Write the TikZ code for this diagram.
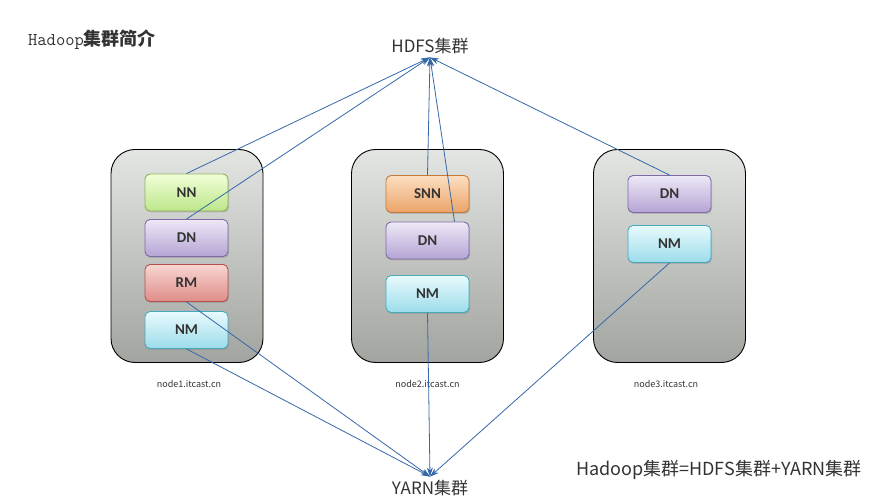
\documentclass[tikz,border=0pt]{standalone}
\usepackage{fontspec}
\setmainfont{Noto Sans CJK SC}
\newfontfamily\boxfont{Carlito}
\usepackage{tikz}
\usetikzlibrary{arrows.meta}
\usetikzlibrary{shadows}

\definecolor{linkblue}{HTML}{3568A8}
\definecolor{textgray}{HTML}{333333}
\definecolor{hosttop}{HTML}{E3E5E2}
\definecolor{hostbottom}{HTML}{A2A4A0}

\tikzset{
	server/.style={draw=black, line width=0.9pt, rounded corners=24pt,
		top color=hosttop, bottom color=hostbottom,
		minimum width=152pt, minimum height=213pt},
	role/.style={rounded corners=5pt, line width=0.9pt,
		minimum width=83pt, minimum height=37pt,
		font=\boxfont\bfseries\fontsize{15}{15}\selectfont, text=textgray,
		drop shadow={shadow xshift=1pt, shadow yshift=-1.5pt, opacity=0.35}},
	nnrole/.style={role, draw={rgb,255:red,141;green,179;blue,86}, top color={rgb,255:red,240;green,255;blue,216}, bottom color={rgb,255:red,189;green,230;blue,138}},
	dnrole/.style={role, draw={rgb,255:red,126;green,106;blue,168}, top color={rgb,255:red,238;green,232;blue,246}, bottom color={rgb,255:red,181;green,164;blue,212}},
	rmrole/.style={role, draw={rgb,255:red,181;green,80;blue,76}, top color={rgb,255:red,248;green,214;blue,210}, bottom color={rgb,255:red,222;green,140;blue,136}},
	nmrole/.style={role, draw={rgb,255:red,72;green,169;blue,188}, top color={rgb,255:red,232;green,250;blue,253}, bottom color={rgb,255:red,156;green,220;blue,234}},
	snnrole/.style={role, draw={rgb,255:red,196;green,122;blue,56}, top color={rgb,255:red,252;green,222;blue,194}, bottom color={rgb,255:red,235;green,164;blue,104}},
	hostlabel/.style={font=\fontsize{9}{10}\selectfont, text=textgray},
	cluster/.style={font=\fontsize{17}{17}\selectfont, text=textgray},
	link/.style={draw=linkblue, line width=0.8pt, -{Stealth[length=9pt,width=6pt]}}
}

\begin{document}
\begin{tikzpicture}[x=1pt,y=-1pt]
	\useasboundingbox (0,0) rectangle (870,502);
	% title
	\node[anchor=west, text=textgray, inner sep=0pt] (title) at (28,40)
		{\ttfamily\fontsize{18}{18}\selectfont Hadoop\rmfamily\bfseries\fontsize{18}{18}\selectfont 集群简介};
	% the two clusters
	\node[cluster] (hdfs) at (430,46) {HDFS集群};
	\node[cluster] (yarn) at (430,488) {YARN集群};
	\node[cluster, anchor=east, inner sep=0pt, font=\fontsize{18}{18}\selectfont] (sum) at (862,470) {Hadoop集群=HDFS集群+YARN集群};
	%
	% hosts
	\node[server] (host1) at (187,256) {};
	\node[server] (host2) at (427.5,256) {};
	\node[server] (host3) at (669.5,256) {};
	\node[hostlabel] (label1) at (189,384) {node1.itcast.cn};
	\node[hostlabel] (label2) at (427.5,384) {node2.itcast.cn};
	\node[hostlabel] (label3) at (666,384) {node3.itcast.cn};
	%
	% roles on node1
	\node[nnrole] (nn1) at (186.5,192.5) {NN};
	\node[dnrole] (dn1) at (186.5,238) {DN};
	\node[rmrole] (rm1) at (186.5,283) {RM};
	\node[nmrole] (nm1) at (186.5,330) {NM};
	% roles on node2
	\node[snnrole] (snn2) at (427.5,194) {SNN};
	\node[dnrole] (dn2) at (427.5,240.5) {DN};
	\node[nmrole] (nm2) at (427.5,294) {NM};
	% roles on node3
	\node[dnrole] (dn3) at (669.5,194) {DN};
	\node[nmrole] (nm3) at (669.5,244) {NM};
	%
	% HDFS links
	\draw[link] (nn1.north) -- (hdfs.south);
	\draw[link] (dn1.north) -- (hdfs.south);
	\draw[link] (snn2.north) -- (hdfs.south);
	\draw[link] ([xshift=27pt]dn2.north) -- (hdfs.south);
	\draw[link] (dn3.north) -- (hdfs.south);
	% YARN links
	\draw[link] (rm1.south) -- (yarn.north);
	\draw[link] (nm1.south) -- (yarn.north);
	\draw[link] (nm2.south) -- (yarn.north);
	\draw[link] (nm3.south) -- (yarn.north);
\end{tikzpicture}
\end{document}
